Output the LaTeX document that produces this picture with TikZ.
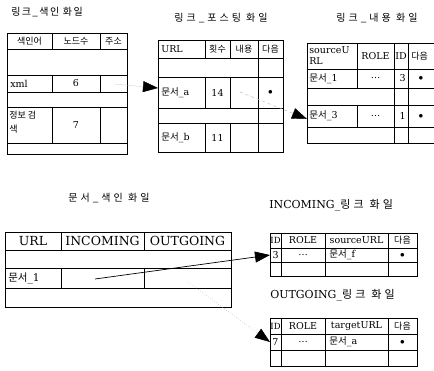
\documentclass[tikz,border=0pt]{standalone}
\usepackage{fontspec}
\setmainfont{DejaVu Serif}
\newfontfamily\kr{Noto Sans CJK KR}
\newfontfamily\krt{Noto Sans CJK KR}[LetterSpace=14]
\newfontfamily\krw{Noto Sans CJK KR}[LetterSpace=30]
\usetikzlibrary{arrows.meta}
\begin{document}
\begin{tikzpicture}[x=1pt,y=-1pt,line width=0.65pt,
  tb/.style={draw=black,line width=0.9pt},
  cell/.style={inner sep=0pt,font=\fontsize{9.5}{11}\selectfont},
  kcell/.style={inner sep=0pt,font=\fontsize{9}{14}\selectfont\kr},
  scell/.style={inner sep=0pt,font=\fontsize{9.5}{10}\selectfont},
  ttl/.style={inner sep=0pt,font=\fontsize{10}{12}\selectfont\krt},
  wttl/.style={inner sep=0pt,font=\fontsize{10}{12}\selectfont\krw},
  bigtip/.style={-{Triangle[length=15pt,width=11pt,color=black]}}
]
\useasboundingbox (0,0) rectangle (434,370);
\clip (0,0) rectangle (434,370);

% ---------- Table 1: link index file ----------
\node[ttl] (t1) at (47,12) {링크\_색인 화일};
\draw[tb] (7,33) rectangle (127,154);
\foreach \yy in {49,75,92,107,143} \draw (7,\yy) -- (127,\yy);
\foreach \xx in {52,100} {
  \draw (\xx,33) -- (\xx,49);
  \draw (\xx,75) -- (\xx,92);
  \draw (\xx,107) -- (\xx,143);
}
\node[kcell] (h11) at (29.5,41) {색인어};
\node[kcell] (h12) at (76,41) {노드수};
\node[kcell] (h13) at (113.5,41) {주소};
\node[cell,anchor=west] (xml) at (10,83.5) {xml};
\node[cell] (n6) at (76,83.5) {6};
\node[kcell,anchor=north west,align=left] (info) at (9,111) {정보 검\\색};
\node[cell] (n7) at (76,125) {7};
\coordinate (xmladdr) at (114,84);

% ---------- Table 2: link posting file ----------
\node[wttl] (t2) at (221,18) {링크\_포스팅 화일};
\draw[tb] (158,40) rectangle (283,152);
\foreach \yy in {58,77,108,123} \draw (158,\yy) -- (283,\yy);
\draw (258,40) -- (258,152);
\foreach \xx in {205,230} {
  \draw (\xx,40) -- (\xx,58);
  \draw (\xx,77) -- (\xx,108);
  \draw (\xx,123) -- (\xx,152);
}
\node[cell,anchor=west] (h21) at (161,49) {URL};
\node[kcell] (h22) at (217.5,49) {횟수};
\node[kcell] (h23) at (244,49) {내용};
\node[kcell] (h24) at (270.5,49) {다음};
\node[cell,anchor=west] (da) at (161,92.5) {{\kr 문서}\_a};
\node[cell] (n14) at (217.5,92.5) {14};
\node[cell] (dot2a) at (270.5,92.5) {$\bullet$};
\node[cell,anchor=west] (db) at (161,137.5) {{\kr 문서}\_b};
\node[cell] (n11) at (217.5,137.5) {11};
\coordinate (arowin) at (158,88);
\coordinate (acont) at (240,92);

% ---------- Table 3: link content file ----------
\node[wttl] (t3) at (377,18) {링크\_내용 화일};
\draw[tb] (307,43) rectangle (440,143);
\foreach \yy in {69,88,105,127} \draw (307,\yy) -- (440,\yy);
\draw (394,43) -- (394,143);
\draw (408,43) -- (408,143);
\draw (357,43) -- (357,88);
\draw (357,105) -- (357,127);
\node[cell,anchor=north west,align=left] (h31) at (309,46) {sourceU\\RL};
\node[cell] (h32) at (375.5,56) {ROLE};
\node[cell] (h33) at (401,56) {ID};
\node[kcell,anchor=west] (h34) at (411,56) {다음};
\node[cell,anchor=west] (d1) at (309,78.5) {{\kr 문서}\_1};
\node[cell] (e31) at (375.5,78.5) {\dots};
\node[cell,anchor=east] (n3) at (406,78.5) {3};
\node[cell] (dot31) at (421,78.5) {$\bullet$};
\node[cell,anchor=west] (d3) at (309,116) {{\kr 문서}\_3};
\node[cell] (e32) at (375.5,116) {\dots};
\node[cell,anchor=east] (n1) at (406,116) {1};
\node[cell] (dot32) at (421,116) {$\bullet$};
\coordinate (row3in) at (307,119);

% ---------- Table 4: document index file ----------
\node[wttl] (t4) at (109,198) {문서\_색인 화일};
\draw[tb] (5,232) rectangle (231,307);
\foreach \yy in {250,268,288} \draw (5,\yy) -- (231,\yy);
\foreach \xx in {61,144} {
  \draw (\xx,232) -- (\xx,250);
  \draw (\xx,268) -- (\xx,288);
}
\node[inner sep=0pt,font=\fontsize{12.5}{14}\selectfont] (h41) at (33,241) {URL};
\node[inner sep=0pt,font=\fontsize{12.5}{14}\selectfont] (h42) at (102.5,241) {INCOMING};
\node[inner sep=0pt,font=\fontsize{12.5}{14}\selectfont] (h43) at (187.5,241) {OUTGOING};
\node[inner sep=0pt,font=\fontsize{10.5}{12}\selectfont,anchor=west] (d41) at (8,278) {{\kr 문서}\_1};
\coordinate (incell) at (95,279);
\coordinate (outcell) at (188,282);

% ---------- INCOMING link file ----------
\node[inner sep=0pt,anchor=west,font=\fontsize{11}{14}\selectfont] (t5) at (269,205) {INCOMING\_{\krw 링크 화일}};
\draw[tb] (270,233) rectangle (417,276);
\foreach \yy in {248,262} \draw (270,\yy) -- (417,\yy);
\foreach \xx in {281,325,388} \draw (\xx,233) -- (\xx,276);
\node[scell,font=\fontsize{8.5}{10}\selectfont] (h51) at (275.5,240.5) {ID};
\node[scell] (h52) at (303,240.5) {ROLE};
\node[scell] (h53) at (356.5,240.5) {sourceURL};
\node[kcell] (h54) at (402.5,240.5) {다음};
\node[scell,anchor=east] (n53) at (279,255) {3};
\node[scell] (e5) at (303,255) {\dots};
\node[scell,anchor=west] (df) at (329,255) {{\kr 문서}\_f};
\node[scell] (dot5) at (402.5,255) {$\bullet$};
\coordinate (incrow) at (270,255);

% ---------- OUTGOING link file ----------
\node[inner sep=0pt,anchor=west,font=\fontsize{11}{14}\selectfont] (t6) at (270,295) {OUTGOING\_{\krw 링크 화일}};
\draw[tb] (270,318) rectangle (417,366);
\foreach \yy in {334,350} \draw (270,\yy) -- (417,\yy);
\foreach \xx in {281,325,388} \draw (\xx,318) -- (\xx,366);
\node[scell,font=\fontsize{8.5}{10}\selectfont] (h61) at (275.5,326) {ID};
\node[scell] (h62) at (303,326) {ROLE};
\node[scell] (h63) at (356.5,326) {targetURL};
\node[kcell] (h64) at (402.5,326) {다음};
\node[scell] (n67) at (275.5,342) {7};
\node[scell] (e6) at (303,342) {\dots};
\node[scell,anchor=west] (dta) at (329,342) {{\kr 문서}\_a};
\node[scell] (dot6) at (402.5,342) {$\bullet$};
\coordinate (outrow) at (270,342);

% ---------- connectors ----------
\draw[bigtip,gray!35,line width=0.4pt] (xmladdr) -- (arowin);
\draw[bigtip,gray!60,dashed,line width=0.4pt] (acont) -- (row3in);
\draw[bigtip,black,line width=0.7pt] (incell) -- (incrow);
\draw[bigtip,gray!60,dotted,line width=0.5pt] (outcell) -- (outrow);
\end{tikzpicture}
\end{document}
